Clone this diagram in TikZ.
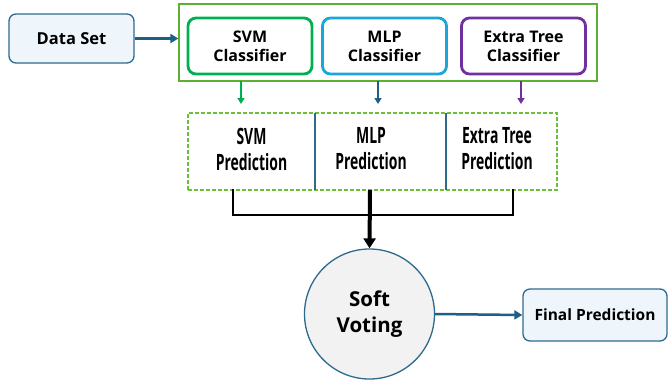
\documentclass[tikz,border=0pt]{standalone}
\usepackage{fontspec}
\setmainfont{Open Sans}
\newfontfamily\condfont[FakeStretch=0.62]{Open Sans}
\usetikzlibrary{arrows.meta,positioning}
\definecolor{dsblue}{HTML}{2E6A8E}
\definecolor{dsfill}{HTML}{EEF6FC}
\definecolor{arrblue}{HTML}{1F5F86}
\definecolor{svmgreen}{HTML}{00B050}
\definecolor{mlpblue}{HTML}{1CA5DB}
\definecolor{etpurple}{HTML}{7030A0}
\definecolor{outgreen}{HTML}{5BB030}
\definecolor{dashgreen}{HTML}{6BBF3A}
\definecolor{circfill}{HTML}{F2F2F2}
\tikzset{
  inbox/.style={draw=dsblue, fill=dsfill, line width=1.3pt, rounded corners=7pt, font=\bfseries\fontsize{16.5}{18}\selectfont},
  clsbox/.style={line width=2.8pt, rounded corners=8pt, minimum width=124pt, minimum height=56pt, align=center, font=\bfseries\fontsize{16}{19}\selectfont, inner sep=0pt},
  predtxt/.style={align=center, font=\condfont\bfseries\fontsize{22.5}{26}\selectfont},
  flow/.style={-{Triangle[length=8pt,width=9pt]}, line width=2.5pt},
}
\begin{document}
\begin{tikzpicture}[x=1pt,y=-1pt]
\useasboundingbox (0,0) rectangle (668,381);
% input
\node[inbox, minimum width=125pt, minimum height=49pt] (ds) at (71.5,38.5) {Data Set};
% outer group
\node[draw=outgreen, line width=1.2pt, minimum width=418pt, minimum height=77pt, inner sep=0pt] (grp) at (388,42.5) {};
\node[clsbox, draw=svmgreen] (svm) at (250,46) {SVM\\Classifier};
\node[clsbox, draw=mlpblue] (mlp) at (384.5,46) {MLP\\Classifier};
\node[clsbox, draw=etpurple] (et) at (523.5,46) {Extra Tree\\Classifier};
\draw[flow, color=arrblue] (ds.east) -- (grp.west |- ds.east);
% predictions
\node[draw=dashgreen, dash pattern=on 4pt off 2pt, line width=1.2pt, minimum width=369pt, minimum height=77pt, inner sep=0pt] (pred) at (372.5,151.5) {};
\coordinate (d1t) at (315,113); \coordinate (d1b) at (315,190);
\coordinate (d2t) at (446,113); \coordinate (d2b) at (446,190);
\draw[dsblue, line width=1.2pt] (d1t) -- (d1b);
\draw[dsblue, line width=1.2pt] (d2t) -- (d2b);
\node[predtxt] (p1) at (251.5,149) {SVM\\Prediction};
\node[predtxt] (p2) at (371,149) {MLP\\Prediction};
\node[predtxt] (p3) at (497,149) {Extra Tree\\Prediction};
% classifier -> prediction arrows
\coordinate (a1) at (241,81); \coordinate (a1e) at (241,104);
\coordinate (a2) at (378,81); \coordinate (a2e) at (378,104);
\coordinate (a3) at (521,81); \coordinate (a3e) at (521,104);
\draw[-{Triangle[length=6pt,width=7pt]}, line width=1.8pt, svmgreen] (a1) -- (a1e);
\draw[-{Triangle[length=6pt,width=7pt]}, line width=1.8pt, arrblue] (a2) -- (a2e);
\draw[-{Triangle[length=6pt,width=7pt]}, line width=1.8pt, etpurple] (a3) -- (a3e);
% soft voting
\node[circle, draw=dsblue, fill=circfill, line width=1.3pt, minimum size=130pt, inner sep=0pt, align=center, font=\bfseries\fontsize{20.5}{26}\selectfont] (sv) at (369.5,314) {Soft\\Voting};
% bracket
\coordinate (b1) at (233,190); \coordinate (b1b) at (233,215);
\coordinate (b3) at (513,190); \coordinate (b3b) at (513,215);
\coordinate (bm) at (370,190);
\draw[line width=2pt, line cap=rect] (b1) -- (b1b) -- (b3b) -- (b3);
\draw[line width=4pt, -{Triangle[length=10pt,width=12pt]}] (bm) -- (sv.north);
% final
\node[inbox, minimum width=144pt, minimum height=52pt, font=\bfseries\fontsize{15.5}{18}\selectfont] (fp) at (595,315) {Final Prediction};
\draw[flow, color=arrblue] (sv.east) -- (fp.west);
\end{tikzpicture}
\end{document}
